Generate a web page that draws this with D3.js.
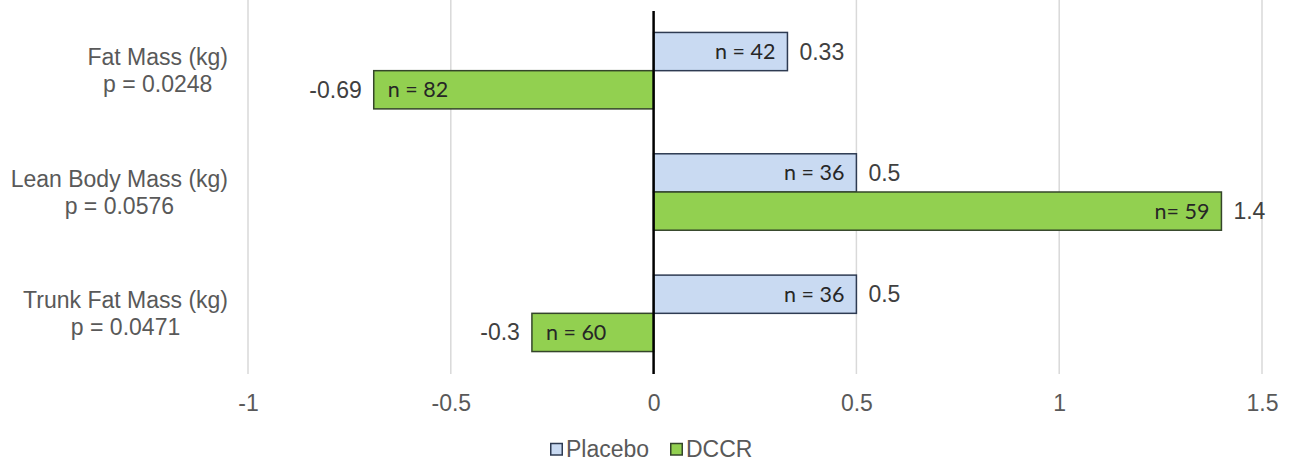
<!DOCTYPE html>
<html><head><meta charset="utf-8">
<script src="https://cdn.jsdelivr.net/npm/d3@7"></script>
<style>body{margin:0;background:#fff;} svg{display:block;}</style>
</head><body>
<svg id="c" width="1290" height="464"></svg>
<script>
const categories = ["Fat Mass (kg)", "Lean Body Mass (kg)", "Trunk Fat Mass (kg)"];
const pValues = ["p = 0.0248", "p = 0.0576", "p = 0.0471"];
const seriesNames = ["Placebo", "DCCR"];
const placeboValues = [0.33, 0.5, 0.5];
const dccrValues = [-0.69, 1.4, -0.3];
const placeboN = ["n = 42", "n = 36", "n = 36"];
const dccrN = ["n = 82", "n= 59", "n = 60"];
const xTicks = [-1, -0.5, 0, 0.5, 1, 1.5];

const svg = d3.select("#c");
const FONT = "'Liberation Sans', Arial, sans-serif";
const x = d3.scaleLinear().domain([-1, 1.5]).range([248, 1262]);
const y = d3.scaleBand().domain(categories).range([10, 374]).paddingInner(0.37).paddingOuter(0.185);
const ys = d3.scaleBand().domain(seriesNames).range([0, y.bandwidth()]);
const colors = {Placebo: {fill: "#c9daf2", stroke: "#2e3b52"}, DCCR: {fill: "#92d050", stroke: "#34452a"}};

// gridlines
svg.append("g").selectAll("line").data(xTicks.filter(d => d !== 0)).join("line")
  .attr("x1", d => x(d)).attr("x2", d => x(d)).attr("y1", 0).attr("y2", 374)
  .attr("stroke", "#d9d9d9").attr("stroke-width", 1.5);

const rows = categories.map((c, i) => ({c, i, series: [
  {s: "Placebo", v: placeboValues[i], n: placeboN[i]},
  {s: "DCCR", v: dccrValues[i], n: dccrN[i]}]}));

const g = svg.append("g").selectAll("g").data(rows).join("g")
  .attr("transform", d => `translate(0,${y(d.c)})`);

const bar = g.selectAll("g").data(d => d.series).join("g");
bar.append("rect")
  .attr("x", d => x(Math.min(0, d.v))).attr("width", d => Math.abs(x(d.v) - x(0)))
  .attr("y", d => ys(d.s)).attr("height", ys.bandwidth())
  .attr("fill", d => colors[d.s].fill).attr("stroke", d => colors[d.s].stroke).attr("stroke-width", 1.5);

// n labels inside
bar.append("text")
  .attr("x", d => d.v >= 0 ? x(d.v) - 12 : x(d.v) + 14)
  .attr("y", d => ys(d.s) + ys.bandwidth() / 2)
  .attr("dy", "0.35em")
  .attr("text-anchor", d => d.v >= 0 ? "end" : "start")
  .attr("font-family", "Lato, 'Noto Sans', sans-serif").attr("font-size", 21.5).attr("fill", "#262626")
  .text(d => d.n);

// value labels outside
bar.append("text")
  .attr("x", d => d.v >= 0 ? x(d.v) + 12 : x(d.v) - 12)
  .attr("y", d => ys(d.s) + ys.bandwidth() / 2)
  .attr("dy", "0.35em")
  .attr("text-anchor", d => d.v >= 0 ? "start" : "end")
  .attr("font-family", FONT).attr("font-size", 23).attr("fill", "#404040")
  .text(d => d.v);

// zero line
svg.append("line").attr("x1", x(0)).attr("x2", x(0)).attr("y1", 11).attr("y2", 374)
  .attr("stroke", "#000").attr("stroke-width", 2.5);

// category labels
const lab = svg.append("g").selectAll("text").data(rows).join("text")
  .attr("font-family", FONT).attr("font-size", 23).attr("fill", "#595959")
  .attr("text-anchor", "middle");
lab.append("tspan").attr("class", "l1").text(d => d.c);
lab.append("tspan").attr("class", "l2").text(d => pValues[d.i]);
lab.each(function(d) {
  const t = d3.select(this);
  const w = Math.max(t.select(".l1").node().getComputedTextLength(), t.select(".l2").node().getComputedTextLength());
  const cx = 228 - w / 2;
  const cy = y(d.c) + y.bandwidth() / 2;
  t.select(".l1").attr("x", cx).attr("y", cy - 13.5).attr("dy", "0.35em");
  t.select(".l2").attr("x", cx).attr("y", cy + 13.5).attr("dy", "0.35em");
});

// x axis
const ax = svg.append("g").attr("transform", "translate(0,403)")
  .call(d3.axisBottom(x).tickValues(xTicks).tickSize(0).tickPadding(0).tickFormat(d => String(d)));
ax.select(".domain").remove();
ax.selectAll("text").attr("y", 0).attr("dy", "0.35em")
  .attr("font-family", FONT).attr("font-size", 23).attr("fill", "#595959");

// legend
const leg = svg.append("g").attr("transform", "translate(550,449)");
const li = leg.selectAll("g").data(seriesNames).join("g")
  .attr("transform", (d, i) => `translate(${i === 0 ? 0 : 120},0)`);
li.append("rect").attr("x", 0.75).attr("y", -5.5).attr("width", 11.5).attr("height", 11.5)
  .attr("fill", d => colors[d].fill).attr("stroke", d => colors[d].stroke).attr("stroke-width", 1.5);
li.append("text").attr("x", 16).attr("dy", "0.35em")
  .attr("font-family", FONT).attr("font-size", 23).attr("fill", "#595959")
  .text(d => d);
</script>
</body></html>
